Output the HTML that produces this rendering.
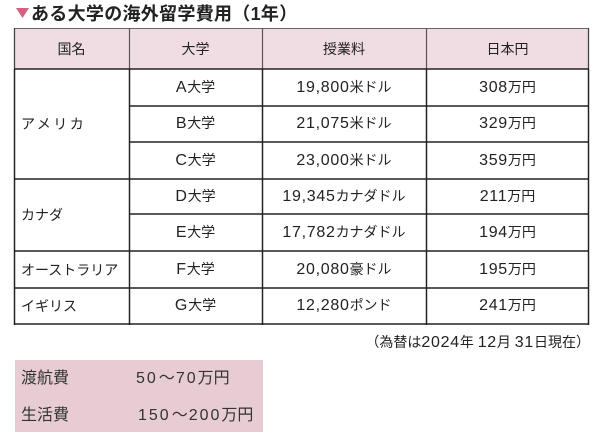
<!DOCTYPE html>
<html>
<head>
<meta charset="utf-8">
<style>
html,body{margin:0;padding:0;background:#fff;}
body{width:600px;height:446px;position:relative;overflow:hidden;font-family:"Liberation Sans","Noto Sans CJK JP",sans-serif;color:#222;}
svg{position:absolute;left:0;top:0;}
.t{position:absolute;display:flex;align-items:center;white-space:nowrap;font-size:14px;line-height:1;}
.c{justify-content:center;}
.l{justify-content:flex-start;}
.r{justify-content:flex-end;}
.n{font-family:"Liberation Sans",sans-serif;font-size:16px;letter-spacing:0.7px;}
.title{position:absolute;left:31px;top:2px;height:22px;display:flex;align-items:center;font-size:18px;letter-spacing:0.3px;font-weight:700;color:#222;white-space:nowrap;}
.box{font-size:16px;color:#333;}
.bn{font-family:"Liberation Sans",sans-serif;font-size:16px;letter-spacing:2px;}
</style>
</head>
<body>
<svg width="600" height="446" viewBox="0 0 600 446">
  <polygon points="16,8 29,8 22.5,18" fill="#d6607e"/>
  <rect x="14" y="28" width="575" height="41" fill="#f0dce3"/>
  <rect x="15" y="360" width="248" height="72" fill="#e7ccd3"/>
  <line x1="14" y1="28.5" x2="589" y2="28.5" stroke="#666" stroke-width="1"/>
  <line x1="14.5" y1="28" x2="14.5" y2="69" stroke="#444" stroke-width="1.3"/>
  <line x1="129.5" y1="28" x2="129.5" y2="69" stroke="#555" stroke-width="1.2"/>
  <line x1="262.5" y1="28" x2="262.5" y2="69" stroke="#555" stroke-width="1.2"/>
  <line x1="426.5" y1="28" x2="426.5" y2="69" stroke="#555" stroke-width="1.2"/>
  <line x1="588.5" y1="28" x2="588.5" y2="69" stroke="#444" stroke-width="1.3"/>
  <g stroke="#222" stroke-width="1.5">
    <line x1="14" y1="69" x2="589" y2="69"/>
    <line x1="14.5" y1="69" x2="14.5" y2="325"/>
    <line x1="129.5" y1="69" x2="129.5" y2="325"/>
    <line x1="262.5" y1="69" x2="262.5" y2="325"/>
    <line x1="426.5" y1="69" x2="426.5" y2="325"/>
    <line x1="588.5" y1="69" x2="588.5" y2="325"/>
    <line x1="129" y1="106" x2="589" y2="106"/>
    <line x1="129" y1="142" x2="589" y2="142"/>
    <line x1="14" y1="179" x2="589" y2="179"/>
    <line x1="129" y1="214" x2="589" y2="214"/>
    <line x1="14" y1="251" x2="589" y2="251"/>
    <line x1="14" y1="288" x2="589" y2="288"/>
    <line x1="14" y1="324" x2="589" y2="324"/>
  </g>
</svg>

<div class="title">ある大学の海外留学費用（1年）</div>

<div class="t c" style="left:14px;top:28px;width:115px;height:41px;">国名</div>
<div class="t c" style="left:129px;top:28px;width:133px;height:41px;">大学</div>
<div class="t c" style="left:262px;top:28px;width:164px;height:41px;">授業料</div>
<div class="t c" style="left:426px;top:28px;width:163px;height:41px;">日本円</div>

<div class="t l" style="left:21px;top:69px;width:105px;height:110px;letter-spacing:2.5px;">アメリカ</div>
<div class="t l" style="left:21px;top:179px;width:105px;height:72px;">カナダ</div>
<div class="t l" style="left:21px;top:251px;width:105px;height:37px;">オーストラリア</div>
<div class="t l" style="left:21px;top:288px;width:105px;height:36px;">イギリス</div>

<div class="t c" style="left:129px;top:69px;width:133px;height:37px;"><span><span class="n">A</span>大学</span></div>
<div class="t c" style="left:129px;top:106px;width:133px;height:36px;"><span><span class="n">B</span>大学</span></div>
<div class="t c" style="left:129px;top:142px;width:133px;height:37px;"><span><span class="n">C</span>大学</span></div>
<div class="t c" style="left:129px;top:179px;width:133px;height:35px;"><span><span class="n">D</span>大学</span></div>
<div class="t c" style="left:129px;top:214px;width:133px;height:37px;"><span><span class="n">E</span>大学</span></div>
<div class="t c" style="left:129px;top:251px;width:133px;height:37px;"><span><span class="n">F</span>大学</span></div>
<div class="t c" style="left:129px;top:288px;width:133px;height:36px;"><span><span class="n">G</span>大学</span></div>

<div class="t c" style="left:262px;top:69px;width:164px;height:37px;"><span><span class="n">19,800</span>米ドル</span></div>
<div class="t c" style="left:262px;top:106px;width:164px;height:36px;"><span><span class="n">21,075</span>米ドル</span></div>
<div class="t c" style="left:262px;top:142px;width:164px;height:37px;"><span><span class="n">23,000</span>米ドル</span></div>
<div class="t c" style="left:262px;top:179px;width:164px;height:35px;"><span><span class="n">19,345</span>カナダドル</span></div>
<div class="t c" style="left:262px;top:214px;width:164px;height:37px;"><span><span class="n">17,782</span>カナダドル</span></div>
<div class="t c" style="left:262px;top:251px;width:164px;height:37px;"><span><span class="n">20,080</span>豪ドル</span></div>
<div class="t c" style="left:262px;top:288px;width:164px;height:36px;"><span><span class="n">12,280</span>ポンド</span></div>

<div class="t c" style="left:426px;top:69px;width:163px;height:37px;"><span><span class="n">308</span>万円</span></div>
<div class="t c" style="left:426px;top:106px;width:163px;height:36px;"><span><span class="n">329</span>万円</span></div>
<div class="t c" style="left:426px;top:142px;width:163px;height:37px;"><span><span class="n">359</span>万円</span></div>
<div class="t c" style="left:426px;top:179px;width:163px;height:35px;"><span><span class="n">211</span>万円</span></div>
<div class="t c" style="left:426px;top:214px;width:163px;height:37px;"><span><span class="n">194</span>万円</span></div>
<div class="t c" style="left:426px;top:251px;width:163px;height:37px;"><span><span class="n">195</span>万円</span></div>
<div class="t c" style="left:426px;top:288px;width:163px;height:36px;"><span><span class="n">241</span>万円</span></div>

<div class="t r" style="left:300px;top:333px;width:290px;height:20px;font-size:14px;"><span>（為替は<span class="n">2024</span>年&nbsp;<span class="n">12</span>月&nbsp;<span class="n">31</span>日現在）</span></div>

<div class="t l box" style="left:21px;top:369px;width:100px;height:20px;">渡航費</div>
<div class="t l box" style="left:136px;top:369px;width:127px;height:20px;"><span><span class="bn">50</span><span style="margin:0 1px;">〜</span><span class="bn">70</span>万円</span></div>
<div class="t l box" style="left:21px;top:406px;width:100px;height:20px;">生活費</div>
<div class="t l box" style="left:138px;top:406px;width:125px;height:20px;"><span><span class="bn">150</span><span style="margin:0 1px;">〜</span><span class="bn">200</span>万円</span></div>
</body>
</html>
